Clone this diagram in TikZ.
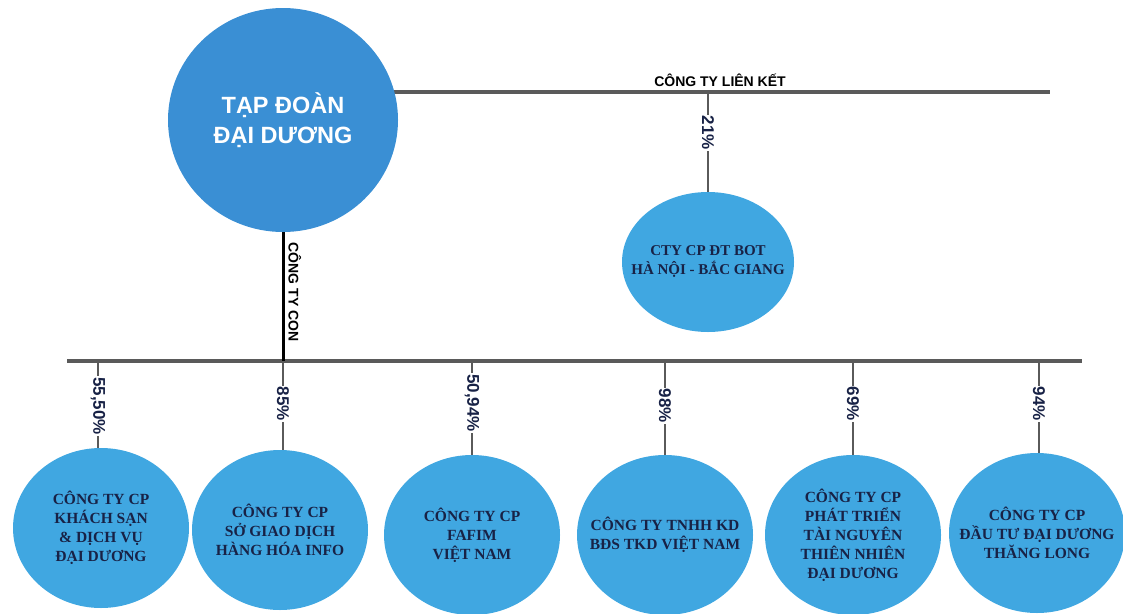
\documentclass[tikz,border=0pt]{standalone}
\usepackage{fontspec}
\setmainfont{Liberation Serif}
\newfontfamily\headfont{Liberation Sans}
\usetikzlibrary{shapes.geometric,backgrounds}
\definecolor{groupblue}{RGB}{58,143,212}
\definecolor{firmblue}{RGB}{64,167,225}
\definecolor{firmtext}{RGB}{24,34,70}
\definecolor{busgrey}{RGB}{90,90,90}

\begin{document}
\begin{tikzpicture}[x=1pt, y=-1pt,
		group/.style={ellipse, fill=groupblue, inner sep=0pt, minimum width=230pt, minimum height=224pt, text=white, align=center, font=\headfont\bfseries\fontsize{23.5}{30}\selectfont},
		firm/.style={ellipse, fill=firmblue, inner xsep=-28pt, inner ysep=-10pt, minimum width=176pt, minimum height=160pt, text=firmtext, align=center, font=\bfseries\fontsize{15.5}{19}\selectfont},
		bus/.style={draw=busgrey, line width=4pt},
		drop/.style={draw=busgrey, line width=1.6pt},
		share/.style={fill=white, inner sep=1pt, rotate=-90, text=firmtext, font=\headfont\bfseries\fontsize{17}{17}\selectfont},
		kind/.style={text=black, font=\headfont\bfseries\fontsize{14}{15}\selectfont},
	]
		\useasboundingbox (0,0) rectangle (1123,613);

		\node (td) [group] at (283,120) {TẠP ĐOÀN\\ĐẠI DƯƠNG};
		\node (bot) [firm, minimum width=172pt, minimum height=140pt, font=\bfseries\fontsize{15}{19}\selectfont] at (708,262) {CTY CP ĐT BOT\\HÀ NỘI - BẮC GIANG};

		\node (ks) [firm] at (101,528) {CÔNG TY CP\\KHÁCH SẠN\\\& DỊCH VỤ\\ĐẠI DƯƠNG};
		\node (sgd) [firm] at (280,530) {CÔNG TY CP\\SỞ GIAO DỊCH\\HÀNG HÓA INFO};
		\node (ff) [firm] at (472,535) {CÔNG TY CP\\FAFIM\\VIỆT NAM};
		\node (bds) [firm] at (665,535) {CÔNG TY TNHH KD\\BĐS TKD VIỆT NAM};
		\node (tn) [firm] at (853,535) {CÔNG TY CP\\PHÁT TRIỂN\\TÀI NGUYÊN\\THIÊN NHIÊN\\ĐẠI DƯƠNG};
		\node (tl) [firm] at (1037,533) {CÔNG TY CP\\ĐẦU TƯ ĐẠI DƯƠNG\\THĂNG LONG};

		\coordinate (lkEnd) at (1050,92);
		\coordinate (conL) at (67,361);
		\coordinate (conR) at (1082,361);

		\begin{scope}[on background layer]
			\draw[bus] (td.center |- lkEnd) -- (lkEnd);
			\draw[bus] (conL) -- (conR);
			\draw[black, line width=3pt] (td) -- (td.center |- conL);
			\draw[drop] (bot.center |- lkEnd) -- (bot);
			\foreach \f/\x in {ks/98, sgd/283, ff/472, bds/665, tn/853, tl/1039}
				\draw[drop] (\x,361) -- (\x,480);
		\end{scope}

		\node (lk) [kind, above=2pt] at (720,92) {CÔNG TY LIÊN KẾT};
		\node (con) [kind, rotate=-90, anchor=south] at (285,292) {CÔNG TY CON};

		\node (p21) [share] at (708,133) {21\%};
		\node (p1) [share] at (98,406) {55,50\%};
		\node (p2) [share] at (283,404) {85\%};
		\node (p3) [share] at (472,403) {50,94\%};
		\node (p4) [share] at (665,406) {98\%};
		\node (p5) [share] at (853,404) {69\%};
		\node (p6) [share] at (1039,404) {94\%};
	\end{tikzpicture}
\end{document}
